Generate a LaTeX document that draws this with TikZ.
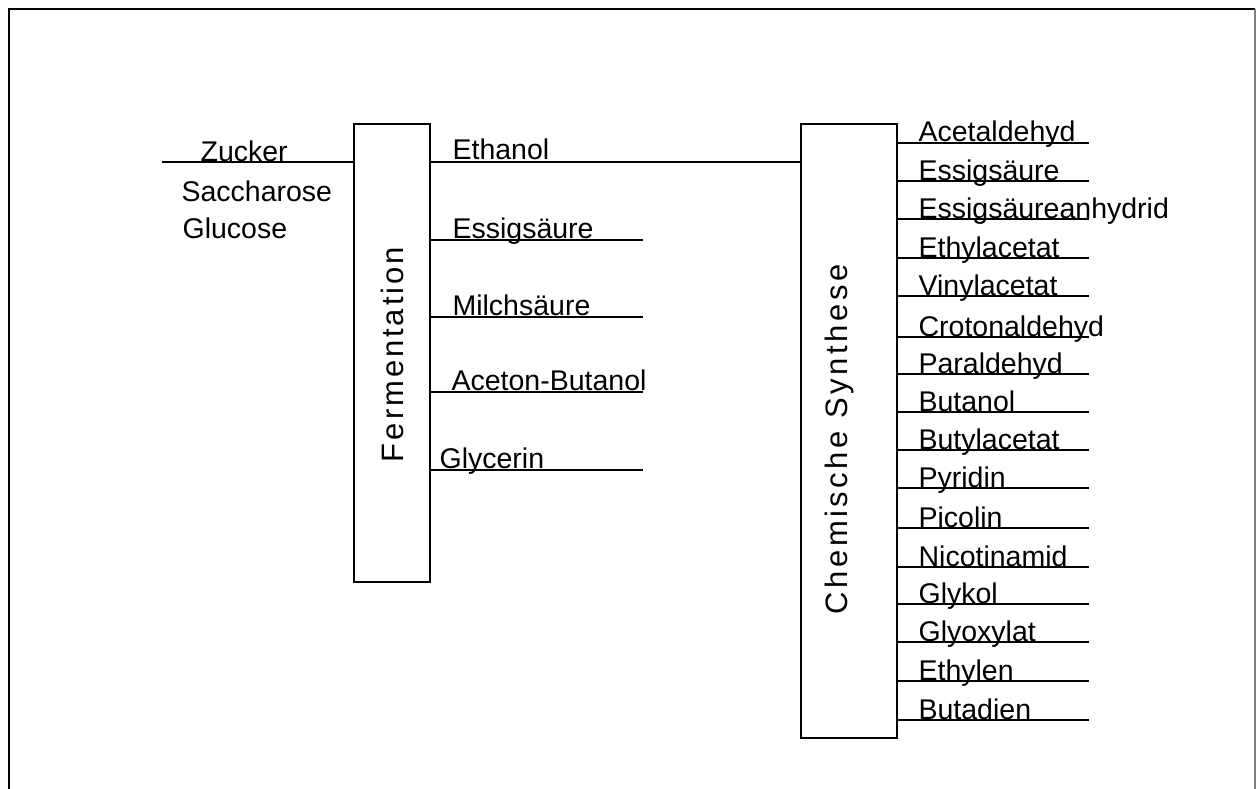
\documentclass[tikz,border=0pt]{standalone}
\usepackage{fontspec}
\setmainfont{Liberation Sans}
\newfontfamily\fermfont[LetterSpace=9.5]{Liberation Sans}
\newfontfamily\chemfont[LetterSpace=11.5]{Liberation Sans}
\begin{document}
\begin{tikzpicture}[x=1pt,y=-1pt,line width=1.2pt,
  lbl/.style={anchor=base west,inner sep=0pt,font=\fontsize{28.5}{34}\selectfont},
  vlbl/.style={rotate=90,inner sep=0pt},
  procbox/.style={draw,rectangle,inner sep=0pt}]
\useasboundingbox (0,0) rectangle (1256,789);
% frame
\coordinate (fbl) at (9,789);
\coordinate (ftl) at (9,9);
\coordinate (ftr) at (1255,9);
\coordinate (fbr) at (1255,789);
\draw[line width=2pt] (fbl) -- (ftl) -- (ftr);
\draw[line width=1.5pt,black!50] (ftr) -- (fbr);
% boxes
\node[procbox,minimum width=76pt,minimum height=458pt] (ferm) at (392,353) {};
\node[vlbl,font=\fermfont\fontsize{31}{36}\selectfont] (fermlbl) at (392,354.5) {Fermentation};
\node[procbox,minimum width=96pt,minimum height=614pt] (chem) at (849,431) {};
\node[vlbl,font=\chemfont\fontsize{31}{36}\selectfont] (chemlbl) at (839,439.5) {Chemische Synthese};
% input
\coordinate (zin) at (162,162);
\coordinate (zend) at (ferm.west |- zin);
\draw (zin) -- (zend);
\node[lbl] (zucker) at (200,161) {Zucker};
\node[lbl] (sacch) at (181,201) {Saccharose};
\node[lbl] (gluc) at (182,238) {Glucose};
% ethanol
\coordinate (eth1) at (ferm.east |- zin);
\coordinate (eth2) at (chem.west |- zin);
\draw (eth1) -- (eth2);
\node[lbl] (ethanol) at (452,160) {Ethanol};
% fermentation products
\foreach \y/\xx/\t [count=\i] in {240/452/Essigsäure,317/452/Milchsäure,392/451/Aceton-Butanol,470/439/Glycerin}{
  \coordinate (fp\i) at (643,\y);
  \coordinate (fs\i) at (ferm.east |- fp\i);
  \draw (fs\i) -- (fp\i);
  \node[lbl] (fl\i) at (\xx,\y-1.5) {\t};
}
% synthesis products
\foreach \y/\t [count=\i] in {143/Acetaldehyd,181/Essigsäure,219/Essigsäureanhydrid,258/Ethylacetat,296/Vinylacetat,337/Crotonaldehyd,374/Paraldehyd,412/Butanol,450/Butylacetat,488/Pyridin,528/Picolin,567/Nicotinamid,604/Glykol,642/Glyoxylat,681/Ethylen,720/Butadien}{
  \coordinate (sp\i) at (1089,\y);
  \coordinate (ss\i) at (chem.east |- sp\i);
  \draw (ss\i) -- (sp\i);
  \node[lbl] (sl\i) at (918,\y-1) {\t};
}
\end{tikzpicture}
\end{document}
